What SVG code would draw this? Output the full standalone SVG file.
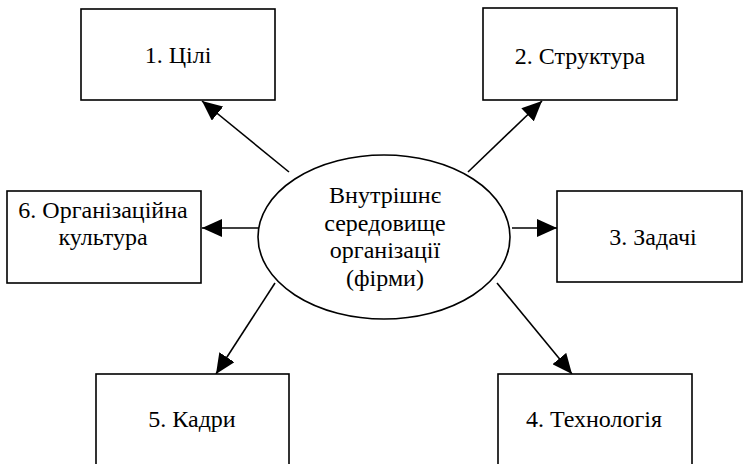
<svg xmlns="http://www.w3.org/2000/svg" width="743" height="464" viewBox="0 0 743 464">
<defs>
<style>
.box{fill:#fff;stroke:#000;stroke-width:1.6}
.t{font-family:'Liberation Serif','Times New Roman',serif;font-size:24px;fill:#000;text-anchor:middle}
.c{stroke:#000;stroke-width:1.6;fill:none;marker-end:url(#ah)}
</style>
<marker id="ah" markerWidth="20" markerHeight="18" refX="20" refY="9" orient="auto" markerUnits="userSpaceOnUse">
<path d="M0,0 L20,9 L0,18 Z" fill="#000"/>
</marker>
</defs>
<rect width="743" height="464" fill="#fff"/>
<g id="connectors">
<line class="c" x1="289" y1="172" x2="202" y2="101"/>
<line class="c" x1="468" y1="172" x2="542" y2="101"/>
<line class="c" x1="259" y1="228" x2="202" y2="228"/>
<line class="c" x1="512" y1="228" x2="557" y2="228"/>
<line class="c" x1="275" y1="283" x2="216" y2="374"/>
<line class="c" x1="497" y1="283" x2="572" y2="374"/>
</g>
<g id="center">
<ellipse class="box" cx="384" cy="237" rx="126" ry="82"/>
<text class="t" x="385" y="203">Внутрішнє</text>
<text class="t" x="385" y="231">середовище</text>
<text class="t" x="385" y="258">організації</text>
<text class="t" x="385" y="286">(фірми)</text>
</g>
<g id="n1">
<rect class="box" x="81" y="9" width="194" height="91"/>
<text class="t" x="178" y="63">1. Цілі</text>
</g>
<g id="n2">
<rect class="box" x="483" y="8" width="194" height="92"/>
<text class="t" x="580" y="64">2. Структура</text>
</g>
<g id="n6">
<rect class="box" x="7" y="191" width="194" height="92"/>
<text class="t" x="103" y="218">6. Організаційна</text>
<text class="t" x="103" y="245">культура</text>
</g>
<g id="n3">
<rect class="box" x="557" y="191" width="185" height="91"/>
<text class="t" x="653" y="245">3. Задачі</text>
</g>
<g id="n5">
<rect class="box" x="96" y="374" width="193" height="100"/>
<text class="t" x="192" y="427">5. Кадри</text>
</g>
<g id="n4">
<rect class="box" x="498" y="374" width="194" height="100"/>
<text class="t" x="594" y="427">4. Технологія</text>
</g>
</svg>
